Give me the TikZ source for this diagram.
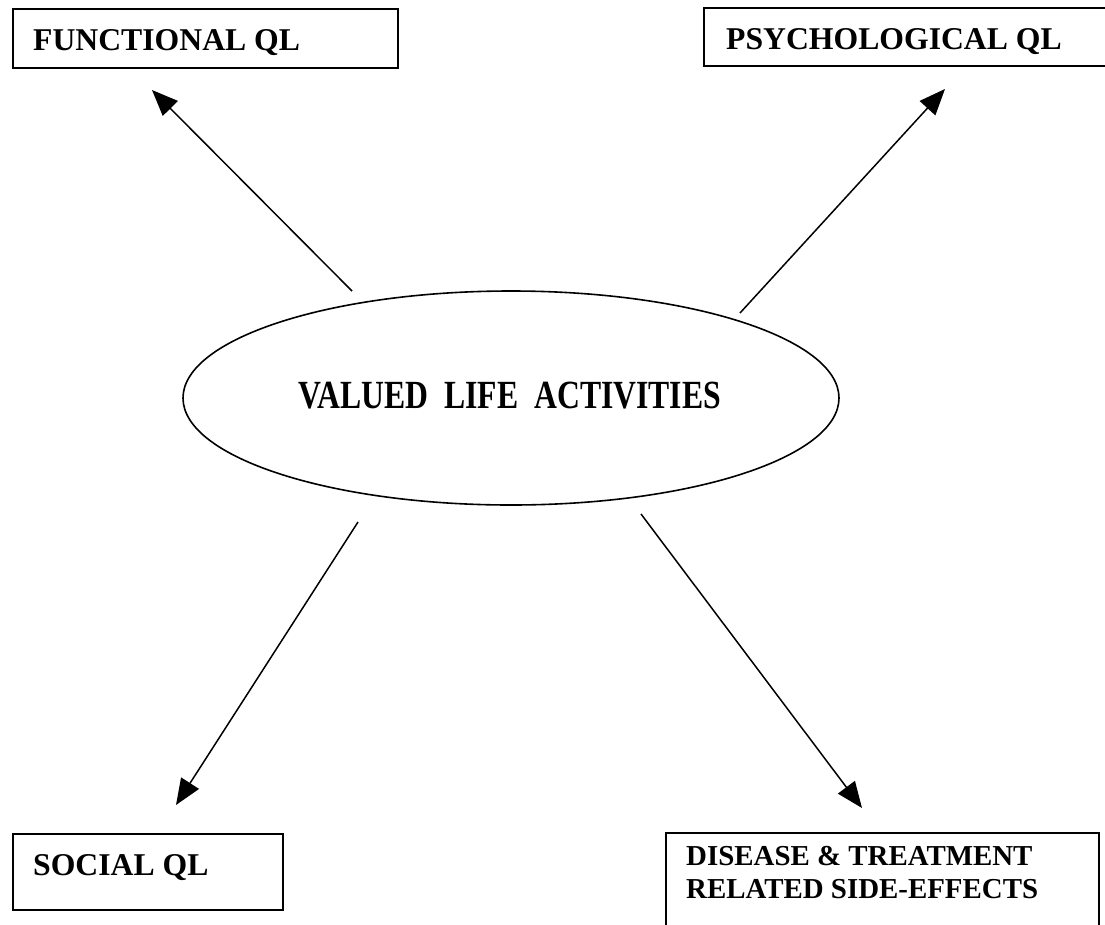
\documentclass[tikz,border=0pt]{standalone}
\usepackage{fontspec}
\setmainfont{Liberation Serif}
\usetikzlibrary{arrows.meta}
\begin{document}
\begin{tikzpicture}[x=1pt,y=-1pt,
  box/.style={draw,line width=1.6pt,anchor=north west,inner xsep=0pt,inner ysep=0pt,
    font=\fontsize{31.7}{36}\selectfont\bfseries},
  conn/.style={line width=1.5pt,-{Triangle[length=26pt,width=21pt]}},
  oval/.style={draw,ellipse,line width=1.6pt,inner sep=0pt}]
\useasboundingbox (0,0) rectangle (1105,924);
\clip (0,0) rectangle (1105,924);
% boxes
\node[box,minimum width=385,minimum height=59] (fb) at (12,8) {};
\node[anchor=base west,font=\fontsize{31.7}{36}\selectfont\bfseries,inner sep=0pt] (ft) at (33,50) {FUNCTIONAL QL};
\node[box,minimum width=410,minimum height=58] (pb) at (703,7) {};
\node[anchor=base west,font=\fontsize{31.7}{36}\selectfont\bfseries,inner sep=0pt] (pt) at (726,49) {PSYCHOLOGICAL QL};
\node[box,minimum width=270,minimum height=76] (sb) at (12,833) {};
\node[anchor=base west,font=\fontsize{31.7}{36}\selectfont\bfseries,inner sep=0pt] (st) at (33,875) {SOCIAL QL};
\node[box,minimum width=433,minimum height=100] (db) at (665,832) {};
\node[anchor=north west,align=left,font=\fontsize{28.9}{33}\selectfont\bfseries,inner sep=0pt] (dt) at (686,846) {DISEASE \& TREATMENT\\RELATED SIDE-EFFECTS};
% ellipse
\draw[line width=1.6pt] (511,398) ellipse [x radius=328, y radius=107];
\coordinate (ov) at (511,398);
\node[inner sep=0pt,font=\fontsize{31.7}{36}\selectfont\bfseries] (vt) at (510,396) {\scalebox{1}[1.26]{VALUED\ \ LIFE\ \ ACTIVITIES}};
% arrow endpoints
\coordinate (a1) at (352,291); \coordinate (t1) at (152,90);
\coordinate (a2) at (740,313); \coordinate (t2) at (945,89);
\coordinate (a3) at (358,522); \coordinate (t3) at (176,805);
\coordinate (a4) at (641,514); \coordinate (t4) at (862,808);
\draw[conn] (a1) -- (t1);
\draw[conn] (a2) -- (t2);
\draw[conn] (a3) -- (t3);
\draw[conn] (a4) -- (t4);
\end{tikzpicture}
\end{document}
